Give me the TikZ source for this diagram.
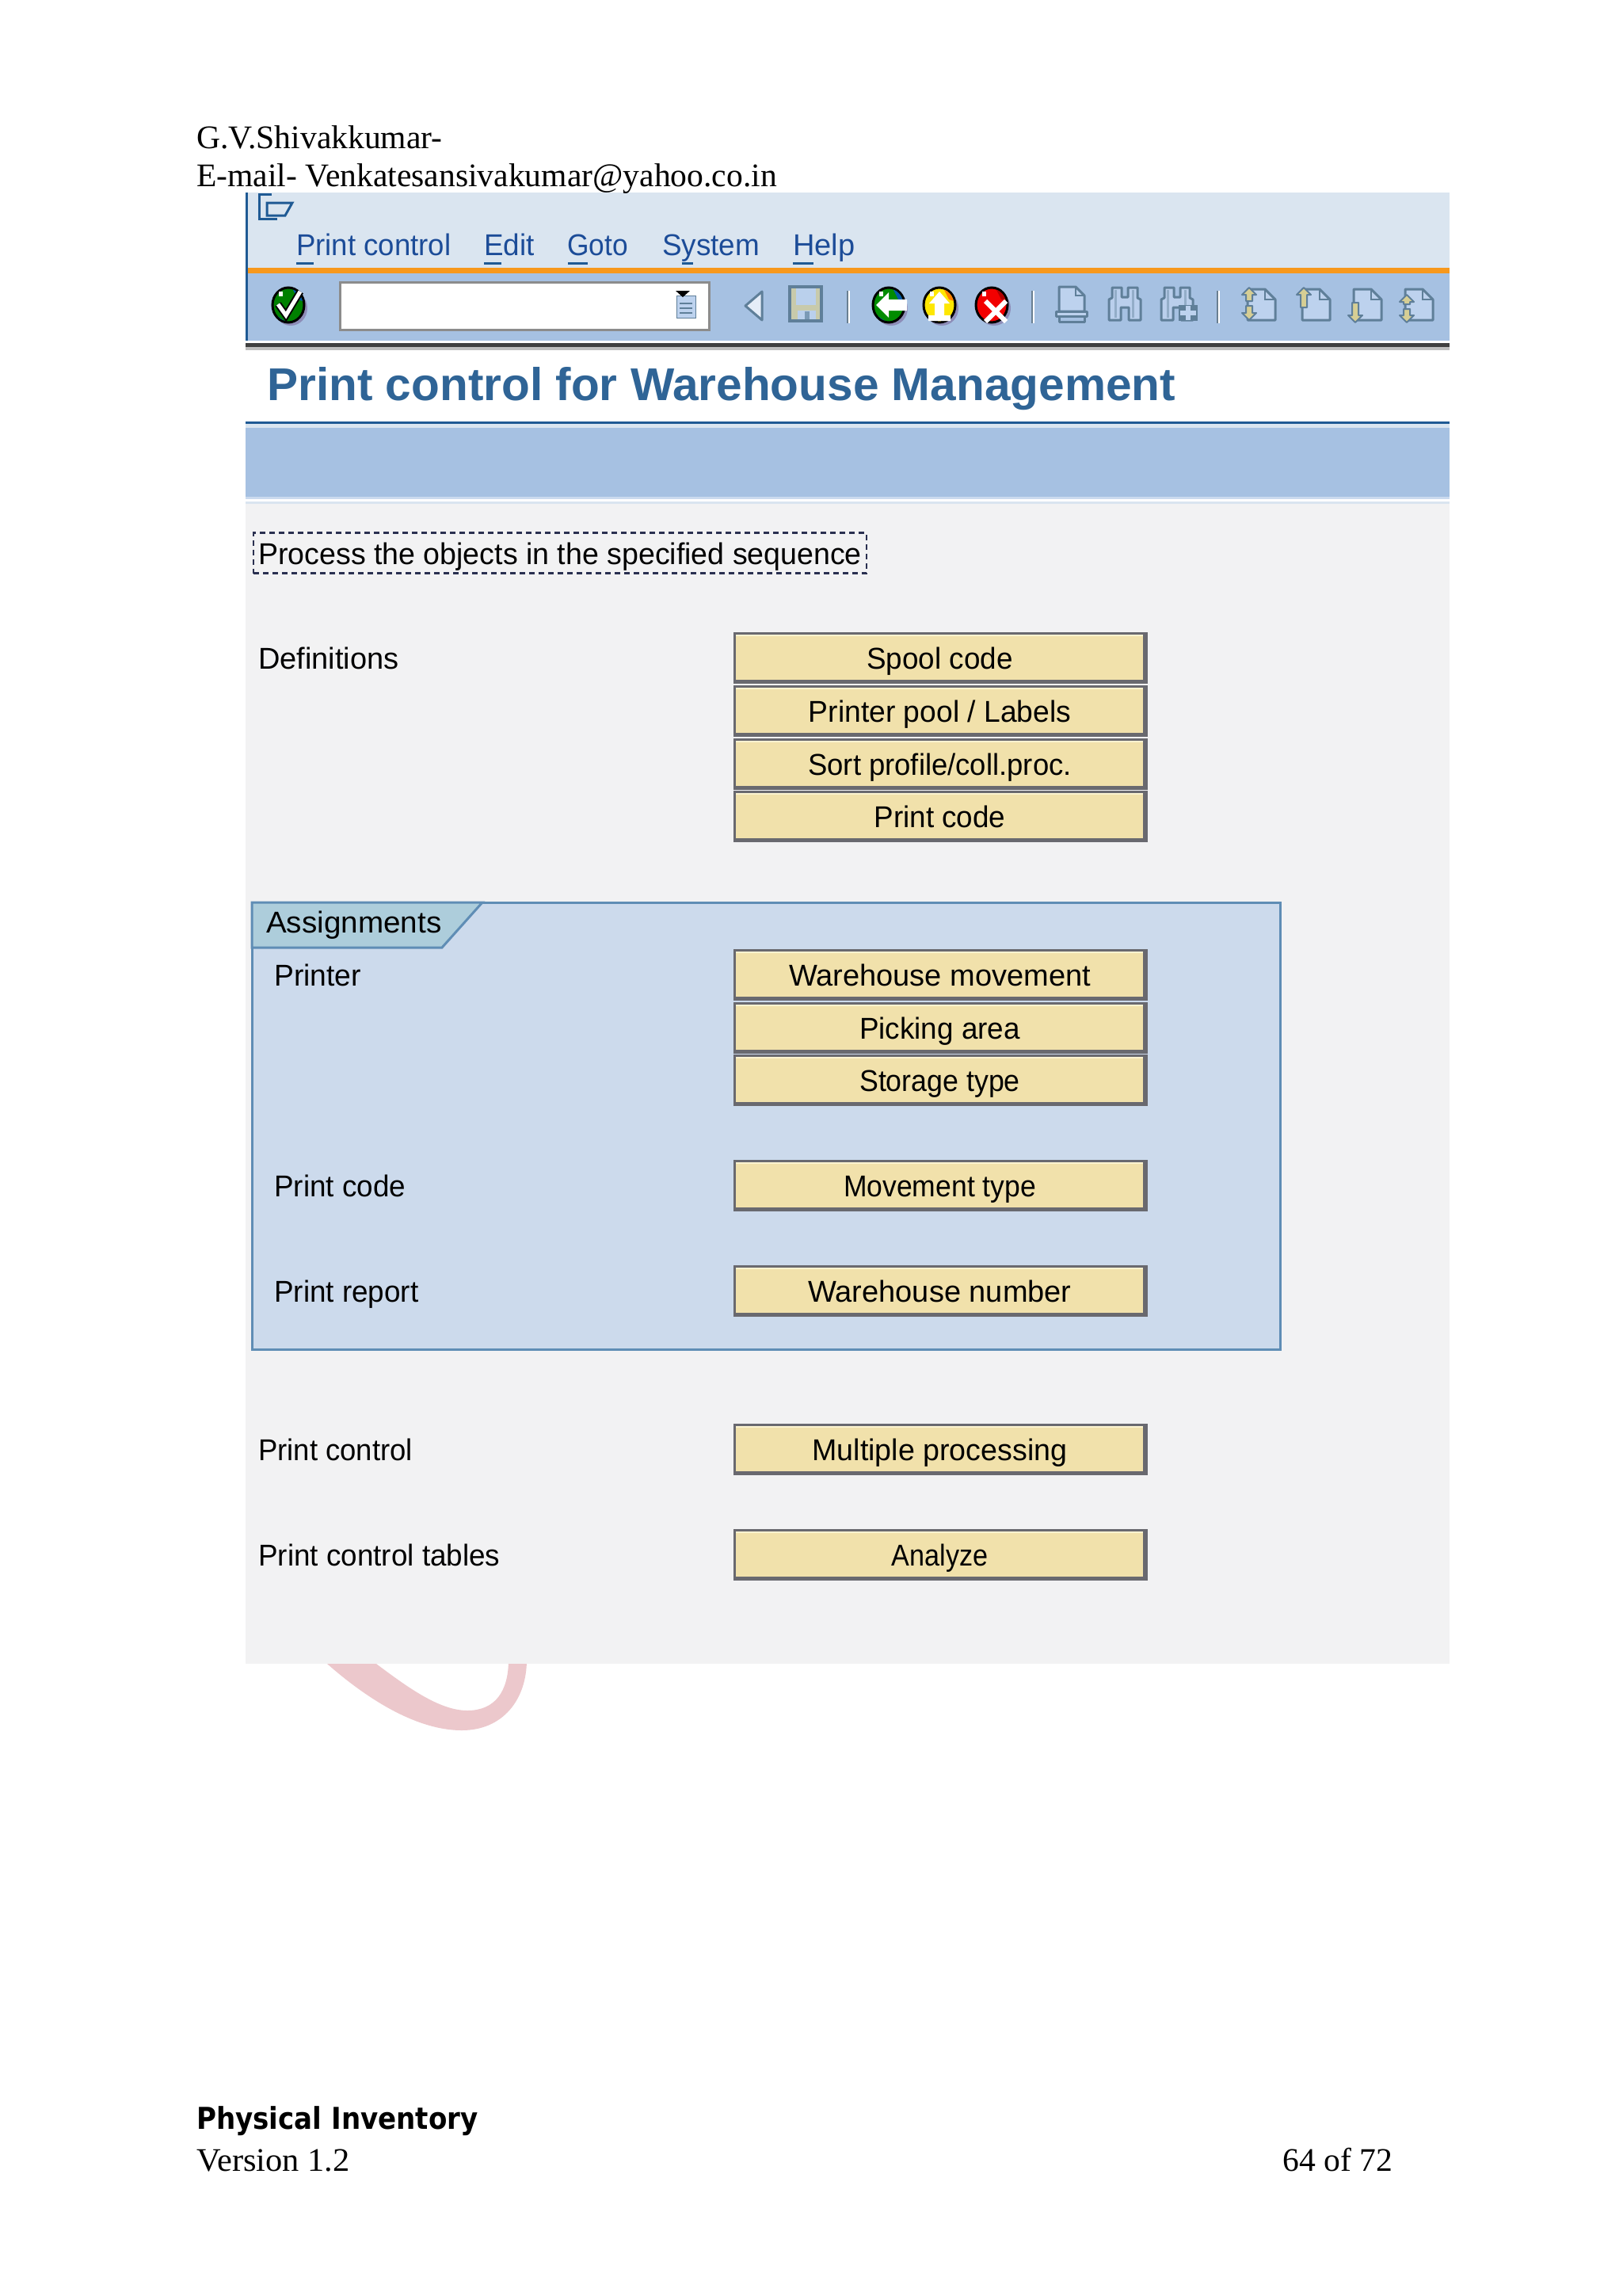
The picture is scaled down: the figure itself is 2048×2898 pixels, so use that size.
\documentclass[tikz,border=0pt]{standalone}
\usepackage{graphicx}
\usepackage{fontspec}
\setmainfont{Liberation Serif}
\newfontfamily\sapf{Liberation Sans}
\newfontfamily\headf{DejaVu Sans}
\definecolor{menubar}{HTML}{DAE5F0}
\definecolor{toolbar}{HTML}{A6C1E2}
\definecolor{orangebar}{HTML}{F7981C}
\definecolor{navy}{HTML}{1F5A94}
\definecolor{menutxt}{HTML}{1C4C98}
\definecolor{titletxt}{HTML}{2F6496}
\definecolor{panelbg}{HTML}{F2F2F3}
\definecolor{groupbg}{HTML}{CCDAEC}
\definecolor{tabbg}{HTML}{ADCDDB}
\definecolor{groupline}{HTML}{5F8DB5}
\definecolor{btnfill}{HTML}{F1E1AB}
\definecolor{btnhi}{HTML}{FBF3D0}
\definecolor{btnedge}{HTML}{69696F}
\definecolor{swoosh}{HTML}{ECC8CC}
\definecolor{iconline}{HTML}{5F7F99}
\definecolor{iconfill}{HTML}{BDD2EE}
\definecolor{iconbeige}{HTML}{D6CE94}
\definecolor{iconshadow}{HTML}{8D8DB8}
\definecolor{focusline}{HTML}{2A3050}
\tikzset{
  saptext/.style={inner sep=0pt,anchor=base west,text=black,font=\sapf\fontsize{38}{38}\selectfont},
  btntext/.style={inner sep=0pt,anchor=base,text=black,font=\sapf\fontsize{38}{38}\selectfont},
  menutext/.style={inner sep=0pt,anchor=base west,text=menutxt,font=\sapf\fontsize{38}{38}\selectfont},
  doctext/.style={inner sep=0pt,anchor=base west,text=black,font=\fontsize{41.6}{41.6}\selectfont},
  iconpen/.style={draw=iconline,line width=3pt,line join=round}
}
% name, centre y, horizontal squeeze, text
\newcommand{\sapbtn}[4]{%
  \fill[btnedge] (926,#2-34) rectangle (1449,#2+31);
  \fill[btnfill] (929,#2-30) rectangle (1443,#2+26);
  \fill[btnhi] (929,#2-31) rectangle (1443,#2-29);
  \node[btntext] (#1) at (1186.5,#2+12) {\scalebox{#3}[1]{#4}};
}
\newcommand{\sapsep}[1]{%
  \fill[iconline!70!gray] (#1-2,367) rectangle (#1,408);
  \fill[white] (#1,367) rectangle (#1+2,408);
}
\newcommand{\roundicon}[3]{%
  \fill[iconshadow] (#1+3,389) ellipse (21 and 22);
  \filldraw[draw=black,line width=3pt,fill=#2] (#1,385) ellipse (20 and 22);
  \begin{scope}
    \clip (#1,385) ellipse (18.5 and 20.5);
    \fill[#3] (#1-24,392) -- (#1-8,403) -- (#1+8,412) -- (#1-24,412) -- cycle;
    \fill[#3] (#1+4,362) -- (#1+24,362) -- (#1+24,382) -- (#1+12,378) -- cycle;
  \end{scope}
  \fill[white] (#1-12,368) rectangle (#1-7,374);
}
\newcommand{\pagebody}[1]{%
  \filldraw[iconpen,fill=iconfill] (#1+9,365) -- (#1+31,365) -- (#1+44,378) -- (#1+44,404) -- (#1+9,404) -- cycle;
  \draw[draw=iconline,line width=2pt] (#1+31,365) -- (#1+31,378) -- (#1+44,378);
}
\newcommand{\uparrowicon}[3]{%
  \filldraw[draw=iconline,line width=2pt,fill=iconbeige,line join=round] (#1,#2) -- (#1+9,#2+9) -- (#1+4,#2+9) -- (#1+4,#3) -- (#1-4,#3) -- (#1-4,#2+9) -- (#1-9,#2+9) -- cycle;
}
\newcommand{\downarrowicon}[3]{%
  \filldraw[draw=iconline,line width=2pt,fill=iconbeige,line join=round] (#1,#2) -- (#1+9,#2-9) -- (#1+4,#2-9) -- (#1+4,#3) -- (#1-4,#3) -- (#1-4,#2-9) -- (#1-9,#2-9) -- cycle;
}
\newcommand{\binocular}[1]{%
  \filldraw[iconpen,fill=iconfill!85!toolbar] (#1+2,404) -- (#1+2,378) -- (#1+6,376) -- (#1+6,363) -- (#1+18,363) -- (#1+18,375) -- (#1+26,375) -- (#1+26,363) -- (#1+38,363) -- (#1+38,376) -- (#1+42,378) -- (#1+42,404) -- (#1+27,404) -- (#1+27,388) -- (#1+17,388) -- (#1+17,404) -- cycle;
  \fill[iconline!45!iconfill] (#1+9,366) rectangle (#1+12,401);
  \fill[iconline!45!iconfill] (#1+31,366) rectangle (#1+34,401);
}
\begin{document}
\begin{tikzpicture}[x=1pt,y=-1pt]
\useasboundingbox (0,0) rectangle (2048,2898);
\fill[white] (0,0) rectangle (2048,2898);
% swoosh
\fill[swoosh] (407,2095) -- (413,2100) .. controls (470,2150) and (530,2184) .. (583,2184) .. controls (635,2184) and (665,2145) .. (665,2095) -- (642,2095) .. controls (642,2135) and (625,2159) .. (590,2159) .. controls (555,2159) and (515,2130) .. (475,2100) -- (468,2095) -- cycle;
% panel
\fill[menubar] (310,243) rectangle (1830,338);
\fill[toolbar] (310,345) rectangle (1830,432);
\fill[orangebar] (310,338) rectangle (1830,345);
\fill[navy] (310,243) rectangle (313,433);
\fill[white] (310,430) rectangle (1830,433);
\fill[black!75] (310,433) rectangle (1830,438);
\fill[black!25] (310,438) rectangle (1830,442);
\fill[navy] (310,532) rectangle (1830,535);
\fill[menubar] (310,535) rectangle (1830,540);
\fill[toolbar] (310,540) rectangle (1830,627);
\fill[toolbar!60!white] (310,627) rectangle (1830,630);
\fill[white] (310,630) rectangle (1830,633);
\fill[menubar] (310,633) rectangle (1830,636);
\fill[panelbg] (310,636) rectangle (1830,2100);
% top-left icon
\draw[navy,line width=3pt] (343,245) -- (327,245) -- (327,276) -- (350,276);
\draw[navy,line width=3pt] (337,256) -- (369,256) -- (360,272) -- (337,272) -- cycle;
% menu
\node[menutext] (mPrint) at (374,322) {\scalebox{.963}[1]{Print control}};
\node[menutext] (mEdit) at (611,322) {\scalebox{.97}[1]{Edit}};
\node[menutext] (mGoto) at (716,322) {\scalebox{.93}[1]{Goto}};
\node[menutext] (mSystem) at (836,322) {\scalebox{.97}[1]{System}};
\node[menutext] (mHelp) at (1001,322) {Help};
\foreach \a/\b in {374/396,611/633,717/742,861/875,1001/1027}{\fill[navy] (\a,331) rectangle (\b,334);}
% toolbar
\filldraw[draw=black!45,line width=3pt,fill=white] (429,356) rectangle (895,416);
\filldraw[draw=iconline,line width=1pt,fill=iconfill] (854,373) rectangle (878,401);
\fill[black] (853,367) -- (871,367) -- (862,375) -- cycle;
\foreach \yy in {382,388,394}{\fill[iconline] (858,\yy) rectangle (874,\yy+2);}
% check
\roundicon{364}{green!50!black}{teal!70!blue}
\draw[black,line width=9pt] (351,384) -- (361,398) -- (379,368);
\draw[white,line width=5pt] (351,384) -- (361,398) -- (379,368);
% back triangle
\filldraw[draw=iconline,line width=3pt,fill=iconfill!40!white,line join=round] (962,368) -- (962,404) -- (941,386) -- cycle;
% floppy
\filldraw[draw=iconline,line width=4pt,fill=iconbeige!70!toolbar] (997,362) rectangle (1037,405);
\fill[iconfill!85!toolbar] (1005,364) rectangle (1030,385);
\fill[iconfill!85!toolbar] (1007,392) rectangle (1030,403);
\fill[iconline!60!toolbar] (1016,393) rectangle (1022,403);
\sapsep{1071}
% round
\roundicon{1122}{green!55!black}{teal!70!blue}
\fill[white] (1106,385) -- (1122,369) -- (1122,378) -- (1145,378) -- (1145,392) -- (1122,392) -- (1122,401) -- cycle;
\roundicon{1186}{yellow!90!orange}{orange}
\fill[white] (1186,368) -- (1199,383) -- (1192,383) -- (1192,398) -- (1200,398) -- (1200,405) -- (1172,405) -- (1172,398) -- (1180,398) -- (1180,383) -- (1173,383) -- cycle;
\roundicon{1252}{red!95!black}{red!70!black}
\draw[white,line width=6pt] (1244,380) -- (1270,406) (1270,380) -- (1244,406);
\sapsep{1304}
% print
\filldraw[iconpen,fill=iconfill] (1337,362) -- (1358,362) -- (1369,373) -- (1369,393) -- (1337,393) -- cycle;
\filldraw[iconpen,fill=iconfill] (1333,393) rectangle (1372,399);
\filldraw[iconpen,fill=toolbar] (1337,399) rectangle (1369,406);
\draw[draw=iconline,line width=2pt] (1358,362) -- (1358,373) -- (1369,373);
% find
\binocular{1398}
\binocular{1464}
\fill[iconline] (1488,385) rectangle (1512,405);
\fill[iconfill] (1490,392) rectangle (1510,398);
\fill[iconfill] (1497,386) rectangle (1503,404);
\sapsep{1538}
% page icons
\pagebody{1566}
\uparrowicon{1577}{363}{380}
\downarrowicon{1577}{404}{386}
\pagebody{1635}
\uparrowicon{1646}{363}{388}
\pagebody{1700}
\downarrowicon{1711}{407}{382}
\pagebody{1765}
\uparrowicon{1776}{372}{384}
\downarrowicon{1776}{407}{390}
% title
\node[inner sep=0pt,anchor=base west,text=titletxt,font=\sapf\bfseries\fontsize{58}{58}\selectfont] (title) at (337,505) {\scalebox{1.01}[1]{Print control for Warehouse Management}};
% focus text
\node[saptext] (process) at (326,712) {\scalebox{.988}[1]{Process the objects in the specified sequence}};
\node[draw=focusline,dash pattern=on 7pt off 5pt,line width=2.5pt,inner sep=0pt,minimum width=774pt,minimum height=51pt] (focus) at (707,698) {};
% labels
\node[saptext] (lDef) at (326,844) {Definitions};
\sapbtn{bSpool}{832}{.97}{Spool code}
\sapbtn{bPool}{899}{.98}{Printer pool / Labels}
\sapbtn{bSort}{966}{.96}{Sort profile/coll.proc.}
\sapbtn{bCode}{1032}{.97}{Print code}
% group
\filldraw[draw=groupline,line width=3pt,fill=groupbg] (318,1139) rectangle (1616,1703);
\filldraw[draw=groupline,line width=3pt,fill=tabbg] (318,1139) -- (609,1139) -- (558,1196) -- (318,1196) -- cycle;
\node[saptext] (lAss) at (336,1177) {\scalebox{1.017}[1]{Assignments}};
\node[saptext] (lPrinter) at (346,1244) {\scalebox{.98}[1]{Printer}};
\node[saptext] (lCode) at (346,1510) {\scalebox{.97}[1]{Print code}};
\node[saptext] (lRep) at (346,1643) {\scalebox{.97}[1]{Print report}};
\sapbtn{bMove}{1232}{1}{Warehouse movement}
\sapbtn{bPick}{1299}{.97}{Picking area}
\sapbtn{bStor}{1365}{.94}{Storage type}
\sapbtn{bType}{1498}{.935}{Movement type}
\sapbtn{bNum}{1631}{1}{Warehouse number}
\node[saptext] (lCtl) at (326,1843) {\scalebox{.96}[1]{Print control}};
\node[saptext] (lTab) at (326,1976) {\scalebox{.97}[1]{Print control tables}};
\sapbtn{bMulti}{1831}{.99}{Multiple processing}
\sapbtn{bAna}{1964}{.9}{Analyze}
% document text
\node[doctext] (h1) at (248,188) {G.V.Shivakkumar-};
\node[doctext] (h2) at (248,235) {E-mail- Venkatesansivakumar@yahoo.co.in};
\node[inner sep=0pt,anchor=base west,font=\headf\bfseries\fontsize{38}{38}\selectfont] (f1) at (248,2687) {\scalebox{.897}[1]{Physical Inventory}};
\node[doctext] (f2) at (248,2740) {\scalebox{1.02}[1]{Version 1.2}};
\node[doctext] (f3) at (1619,2740) {64 of 72};
\end{tikzpicture}
\end{document}
